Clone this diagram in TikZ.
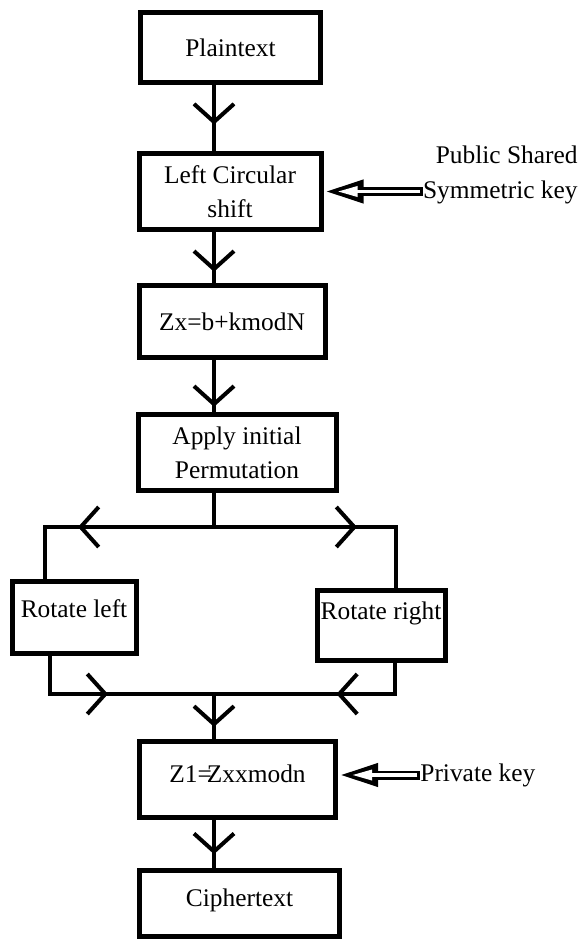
\documentclass[tikz,border=0pt]{standalone}
\usepackage{fontspec}
\setmainfont{Liberation Serif}
\usetikzlibrary{arrows.meta,decorations.markings}

\tikzset{
  box/.style={draw,line width=2.5pt,inner sep=1pt,align=center,
    font=\fontsize{12.7}{17}\selectfont},
  keytext/.style={inner sep=0pt,align=right,font=\fontsize{12.7}{17.5}\selectfont},
  flow/.style={line width=2pt},
  midarrow/.style={postaction={decorate,decoration={markings,
      mark=at position #1 with {\arrow{Straight Barb[length=9pt,width=20pt,line width=2pt]}}}}},
  keyarrow/.style={line width=4.5pt,-{Triangle[length=20pt,width=10.5pt]},
    postaction={draw=white,line width=1.6pt,shorten >=7pt,shorten <=1.3pt,
      -{Triangle[length=10pt,width=5pt]}}}
}

\begin{document}
\begin{tikzpicture}[x=0.5pt,y=-0.5pt]
  \useasboundingbox (0,0) rectangle (581,941);
  \coordinate (stem) at (214,0);

  % main column
  \node[box,minimum width=90pt,minimum height=35pt] (plain) at (230.5,47.5) {Plaintext};
  \node[box,minimum width=91pt,minimum height=38pt] (left) at (230,191.5) {Left Circular\\shift};
  \node[box,minimum width=93pt,minimum height=36pt] (zx) at (232,321.5) {Zx=b+kmodN};
  \node[box,minimum width=99pt,minimum height=38pt] (apply) at (237,452.5) {Apply initial\\Permutation};
  \node[box,minimum width=62pt,minimum height=36pt,inner sep=0pt,text depth=9pt] (rotl) at (74,617.5) {Rotate left};
  \node[box,minimum width=64pt,minimum height=35pt,inner sep=0pt,text depth=14pt] (rotr) at (381,625) {Rotate right};
  \node[box,minimum width=98pt,minimum height=38pt,text depth=5.5pt] (z1) at (237.5,779.5) {Z1=\kern-.2em Zxxmodn};
  \node[box,minimum width=100pt,minimum height=33pt,text depth=5pt] (ciph) at (239.5,903) {Ciphertext};

  % keys
  \node[keytext,anchor=east] (pub) at (578,175) {Public Shared\\Symmetric key};
  \node[keytext,anchor=west] (priv) at (420,775) {Private key};

  \draw[flow,midarrow=0.6] (plain.south -| stem) -- (left.north -| stem);
  \draw[flow,midarrow=0.78] (left.south -| stem) -- (zx.north -| stem);
  \draw[flow,midarrow=0.9] (zx.south -| stem) -- (apply.north -| stem);

  % split into the two rotations
  \coordinate (split) at (214,527);
  \coordinate (tl) at (45,527);
  \coordinate (tr) at (396,527);
  \draw[flow] (apply.south -| stem) -- (split);
  \draw[flow,midarrow=68pt] (split) -- (tl) -- (rotl.north -| tl);
  \draw[flow,midarrow=71.5pt] (split) -- (tr) -- (rotr.north -| tr);

  % join again
  \coordinate (bl) at (50,694);
  \coordinate (br) at (395,694);
  \coordinate (join) at (214,694);
  \draw[flow,midarrow=48pt] (rotl.south -| bl) -- (bl) -- (join);
  \draw[flow,midarrow=45pt] (rotr.south -| br) -- (br) -- (join);
  \draw[flow,midarrow=0.73] (join) -- (z1.north -| stem);
  \draw[flow,midarrow=0.72] (z1.south -| stem) -- (ciph.north -| stem);

  \draw[keyarrow] (pub.west |- left.east) -- (left.east);
  \draw[keyarrow] (priv.west) -- (priv.west -| z1.east);
\end{tikzpicture}
\end{document}
